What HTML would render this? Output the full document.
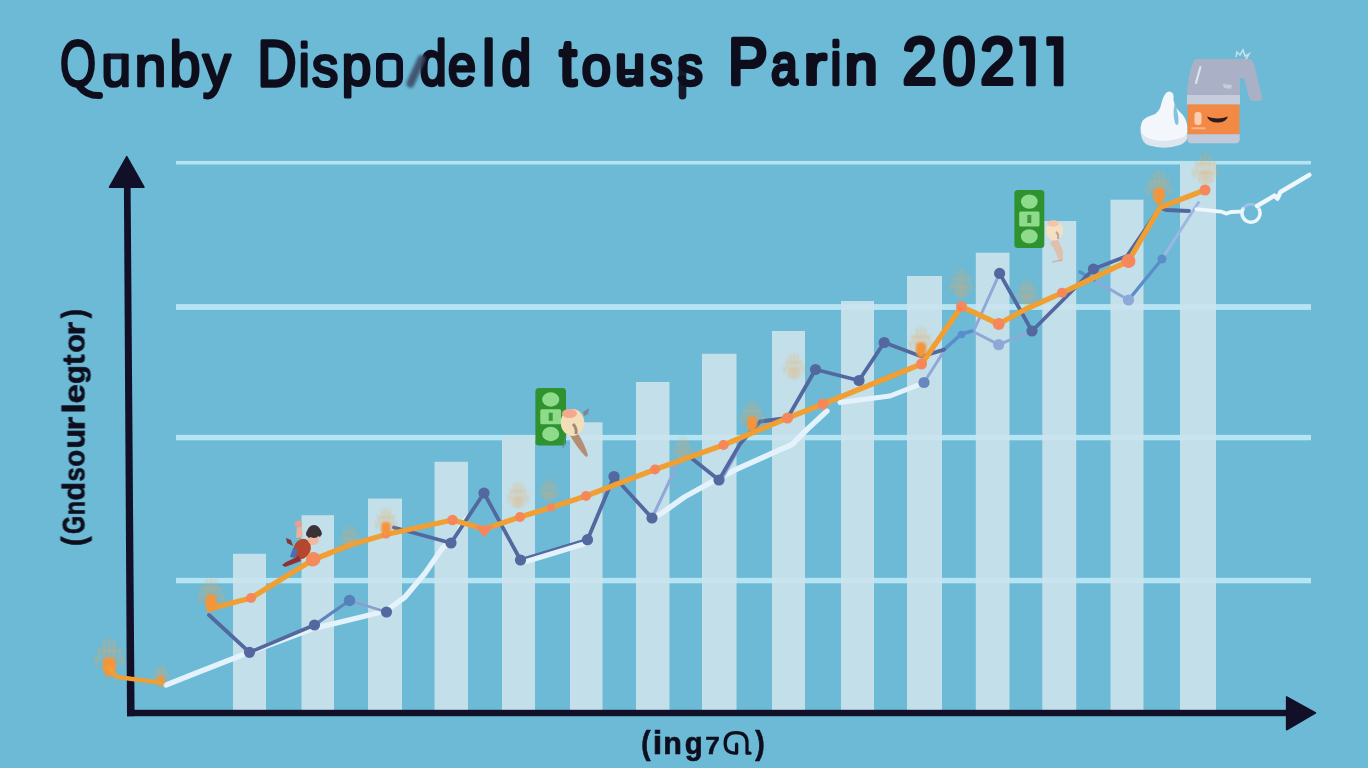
<!DOCTYPE html>
<html><head><meta charset="utf-8"><title>Chart</title>
<style>html,body{margin:0;padding:0;background:#6cbad6;overflow:hidden}svg{display:block}text{font-family:"Liberation Sans",sans-serif;}</style>
</head><body>
<svg width="1368" height="768" viewBox="0 0 1368 768">
<defs>
<filter id="b12" x="-50%" y="-50%" width="200%" height="200%"><feGaussianBlur stdDeviation="1.1"/></filter>
<filter id="b1" x="-50%" y="-50%" width="200%" height="200%"><feGaussianBlur stdDeviation="0.7"/></filter>
<filter id="b2" x="-60%" y="-60%" width="220%" height="220%"><feGaussianBlur stdDeviation="1.6"/></filter>
<filter id="b05" x="-30%" y="-30%" width="160%" height="160%"><feGaussianBlur stdDeviation="0.45"/></filter>
<g id="burst">
<path d="M-7,-5 L-8.5,-15 M-3.5,-7 L-4.2,-21 M0,-8 L0,-23 M3.5,-7 L4.2,-21 M7,-5 L8.5,-15 M-10,-1 L-11,-8 M10,-1 L11,-8 M-6.5,-13 L6.5,-13" fill="none" stroke="#f5a550" stroke-width="1.3" stroke-linecap="round" opacity="0.6"/>
<path d="M-5,-6 q5,-4 10,0 l0.5,7 q-2,6 -5,7 q-4,0 -6,-7z" fill="#f4953a"/>
</g>
<g id="burstf">
<path d="M-7,-5 L-8.5,-15 M-3.5,-7 L-4.2,-21 M0,-8 L0,-23 M3.5,-7 L4.2,-21 M7,-5 L8.5,-15 M-10,-1 L-11,-8 M10,-1 L11,-8 M-6.5,-13 L6.5,-13 M-6,-4 q6,-4 12,0 l0,6 q-6,5 -12,0z" fill="none" stroke="#f5a550" stroke-width="1.3" stroke-linecap="round" opacity="0.55"/>
<path d="M-4,-5 q4,-3 8,0 l0,6 q-4,4 -8,0z" fill="#f4a452" opacity="0.35"/>
</g>
</defs>
<rect width="1368" height="768" fill="#6cbad6"/>
<g filter="url(#b05)">
<rect x="176" y="160.95" width="1135" height="3.5" fill="#b7e4f3"/>
<rect x="176" y="304.10" width="1135" height="5.8" fill="#b7e4f3"/>
<rect x="176" y="434.90" width="1135" height="5.4" fill="#b7e4f3"/>
<rect x="176" y="577.90" width="1135" height="5.4" fill="#b7e4f3"/>
<rect x="233" y="553.75" width="33.0" height="156.75" fill="#c3dfe9"/>
<rect x="301.5" y="515.2" width="32.5" height="195.30" fill="#c3dfe9"/>
<rect x="368" y="498.5" width="34.0" height="212.00" fill="#c3dfe9"/>
<rect x="434.5" y="461.75" width="33.5" height="248.75" fill="#c3dfe9"/>
<rect x="502" y="435.5" width="33.0" height="275.00" fill="#c3dfe9"/>
<rect x="570" y="422.3" width="32.5" height="288.20" fill="#c3dfe9"/>
<rect x="636" y="382" width="33.5" height="328.50" fill="#c3dfe9"/>
<rect x="702" y="353.75" width="34.5" height="356.75" fill="#c3dfe9"/>
<rect x="772" y="331" width="33.0" height="379.50" fill="#c3dfe9"/>
<rect x="841" y="301" width="33.0" height="409.50" fill="#c3dfe9"/>
<rect x="907" y="276" width="35.0" height="434.50" fill="#c3dfe9"/>
<rect x="975.8" y="252.7" width="33.7" height="457.80" fill="#c3dfe9"/>
<rect x="1042.3" y="221" width="33.9" height="489.50" fill="#c3dfe9"/>
<rect x="1110.5" y="199.7" width="33.0" height="510.80" fill="#c3dfe9"/>
<rect x="1180" y="163.5" width="36.0" height="547.00" fill="#c3dfe9"/>
<rect x="233" y="577.90" width="33.0" height="5.4" fill="#c9e4ee"/>
<rect x="301.5" y="577.90" width="32.5" height="5.4" fill="#c9e4ee"/>
<rect x="368" y="577.90" width="34.0" height="5.4" fill="#c9e4ee"/>
<rect x="434.5" y="577.90" width="33.5" height="5.4" fill="#c9e4ee"/>
<rect x="502" y="577.90" width="33.0" height="5.4" fill="#c9e4ee"/>
<rect x="570" y="434.90" width="32.5" height="5.4" fill="#c9e4ee"/>
<rect x="570" y="577.90" width="32.5" height="5.4" fill="#c9e4ee"/>
<rect x="636" y="434.90" width="33.5" height="5.4" fill="#c9e4ee"/>
<rect x="636" y="577.90" width="33.5" height="5.4" fill="#c9e4ee"/>
<rect x="702" y="434.90" width="34.5" height="5.4" fill="#c9e4ee"/>
<rect x="702" y="577.90" width="34.5" height="5.4" fill="#c9e4ee"/>
<rect x="772" y="434.90" width="33.0" height="5.4" fill="#c9e4ee"/>
<rect x="772" y="577.90" width="33.0" height="5.4" fill="#c9e4ee"/>
<rect x="841" y="304.10" width="33.0" height="5.8" fill="#c9e4ee"/>
<rect x="841" y="434.90" width="33.0" height="5.4" fill="#c9e4ee"/>
<rect x="841" y="577.90" width="33.0" height="5.4" fill="#c9e4ee"/>
<rect x="907" y="304.10" width="35.0" height="5.8" fill="#c9e4ee"/>
<rect x="907" y="434.90" width="35.0" height="5.4" fill="#c9e4ee"/>
<rect x="907" y="577.90" width="35.0" height="5.4" fill="#c9e4ee"/>
<rect x="975.8" y="304.10" width="33.7" height="5.8" fill="#c9e4ee"/>
<rect x="975.8" y="434.90" width="33.7" height="5.4" fill="#c9e4ee"/>
<rect x="975.8" y="577.90" width="33.7" height="5.4" fill="#c9e4ee"/>
<rect x="1042.3" y="304.10" width="33.9" height="5.8" fill="#c9e4ee"/>
<rect x="1042.3" y="434.90" width="33.9" height="5.4" fill="#c9e4ee"/>
<rect x="1042.3" y="577.90" width="33.9" height="5.4" fill="#c9e4ee"/>
<rect x="1110.5" y="304.10" width="33.0" height="5.8" fill="#c9e4ee"/>
<rect x="1110.5" y="434.90" width="33.0" height="5.4" fill="#c9e4ee"/>
<rect x="1110.5" y="577.90" width="33.0" height="5.4" fill="#c9e4ee"/>
<rect x="1180" y="304.10" width="36.0" height="5.8" fill="#c9e4ee"/>
<rect x="1180" y="434.90" width="36.0" height="5.4" fill="#c9e4ee"/>
<rect x="1180" y="577.90" width="36.0" height="5.4" fill="#c9e4ee"/>
</g>
<g id="lines" filter="url(#b05)">
<polyline points="166.0,685.0 200.0,671.5 248.0,652.8 312.4,628.8 386.0,611.0 405.0,597.0 425.0,573.2 442.5,548.0 450.0,541.5" fill="none" stroke="#e4f2fb" stroke-width="5.4" stroke-linejoin="round" stroke-linecap="round" />
<polyline points="458.0,529.0 466.0,517.0" fill="none" stroke="#e4f2fb" stroke-width="2.5" stroke-linejoin="round" stroke-linecap="round" />
<polyline points="656.0,516.5 662.0,513.0 684.5,497.0 711.8,481.8 737.0,469.0 770.4,454.0 792.0,444.5 807.5,429.0 827.0,411.0" fill="none" stroke="#e4f2fb" stroke-width="5.4" stroke-linejoin="round" stroke-linecap="round" />
<polyline points="840.0,402.5 890.0,396.0 917.0,385.5" fill="none" stroke="#e4f2fb" stroke-width="5" stroke-linejoin="round" stroke-linecap="round" />
<polyline points="652.0,518.0 677.5,464.0" fill="none" stroke="#8ea9d8" stroke-width="3" stroke-linejoin="round" stroke-linecap="round" />
<polyline points="721.5,480.0 737.5,451.0" fill="none" stroke="#8ea9d8" stroke-width="3" stroke-linejoin="round" stroke-linecap="round" />
<polyline points="924.0,382.5 944.0,351.0" fill="none" stroke="#8ea9d8" stroke-width="3" stroke-linejoin="round" stroke-linecap="round" />
<polyline points="975.0,328.0 999.6,273.4" fill="none" stroke="#8ea9d8" stroke-width="3" stroke-linejoin="round" stroke-linecap="round" />
<polyline points="972.0,331.0 998.7,344.7 1032.0,331.0" fill="none" stroke="#8ea9d8" stroke-width="3" stroke-linejoin="round" stroke-linecap="round" />
<polyline points="1094.0,280.0 1128.5,300.0 1162.0,259.0" fill="none" stroke="#8ea9d8" stroke-width="3" stroke-linejoin="round" stroke-linecap="round" />
<polyline points="349.5,600.5 386.5,612.0" fill="none" stroke="#8d9ccc" stroke-width="2.6" stroke-linejoin="round" stroke-linecap="round" />
<polyline points="944.0,349.6 961.5,334.0 972.0,331.0" fill="none" stroke="#5a8ecb" stroke-width="3.6" stroke-linejoin="round" stroke-linecap="round" />
<polyline points="1080.0,272.0 1094.0,280.0" fill="none" stroke="#5a8ecb" stroke-width="3.6" stroke-linejoin="round" stroke-linecap="round" />
<polyline points="1128.5,300.0 1162.0,259.0" fill="none" stroke="#5a8ecb" stroke-width="3.2" stroke-linejoin="round" stroke-linecap="round" />
<polyline points="1162.0,259.0 1191.0,214.0 1198.5,202.5" fill="none" stroke="#9db7e4" stroke-width="3" stroke-linejoin="round" stroke-linecap="round" />
<polyline points="209.0,615.0 249.5,652.3 314.5,625.0" fill="none" stroke="#53689f" stroke-width="3.8" stroke-linejoin="round" stroke-linecap="round" />
<polyline points="314.5,625.0 349.5,600.5" fill="none" stroke="#5b84bd" stroke-width="3.2" stroke-linejoin="round" stroke-linecap="round" />
<polyline points="394.0,527.5 451.0,543.0 484.0,493.0 520.5,560.0 587.5,539.7" fill="none" stroke="#53689f" stroke-width="3.8" stroke-linejoin="round" stroke-linecap="round" />
<polyline points="587.5,539.7 614.0,476.5 652.0,518.0" fill="none" stroke="#53689f" stroke-width="3.8" stroke-linejoin="round" stroke-linecap="round" />
<polyline points="692.5,459.0 719.0,480.0 740.0,444.0 760.0,421.5 787.5,418.0 815.5,369.5 859.0,380.5 884.2,342.5 921.5,356.5 944.0,349.6" fill="none" stroke="#53689f" stroke-width="3.8" stroke-linejoin="round" stroke-linecap="round" />
<polyline points="999.6,273.4 1032.0,331.0 1067.0,296.0 1093.5,269.0 1127.0,256.0 1160.0,207.5 1166.0,210.0 1189.0,211.0" fill="none" stroke="#53689f" stroke-width="3.8" stroke-linejoin="round" stroke-linecap="round" />
<polyline points="527.0,561.2 560.0,551.2 583.0,544.2" fill="none" stroke="#e4f2fb" stroke-width="5.2" stroke-linejoin="round" stroke-linecap="round" />
<circle cx="249.5" cy="652.3" r="5.6" fill="#53689f" />
<circle cx="314.5" cy="625.0" r="5.6" fill="#53689f" />
<circle cx="386.5" cy="612.0" r="5.6" fill="#53689f" />
<circle cx="451.0" cy="543.0" r="5.6" fill="#53689f" />
<circle cx="484.0" cy="493.0" r="5.6" fill="#53689f" />
<circle cx="520.5" cy="560.0" r="5.6" fill="#53689f" />
<circle cx="587.5" cy="539.7" r="5.6" fill="#53689f" />
<circle cx="614.0" cy="476.5" r="5.6" fill="#53689f" />
<circle cx="652.0" cy="518.0" r="5.6" fill="#53689f" />
<circle cx="719.0" cy="480.0" r="5.6" fill="#53689f" />
<circle cx="815.5" cy="369.5" r="5.6" fill="#53689f" />
<circle cx="859.0" cy="380.5" r="5.6" fill="#53689f" />
<circle cx="884.2" cy="342.5" r="5.6" fill="#53689f" />
<circle cx="999.6" cy="273.4" r="5.6" fill="#53689f" />
<circle cx="1032.0" cy="331.0" r="5.6" fill="#53689f" />
<circle cx="1093.5" cy="269.0" r="5.6" fill="#53689f" />
<circle cx="998.7" cy="344.7" r="5.6" fill="#8ea9d8" />
<circle cx="1128.5" cy="300.0" r="5.6" fill="#8ea9d8" />
<circle cx="924.0" cy="382.5" r="5.6" fill="#6a86be" />
<circle cx="349.5" cy="600.5" r="5.8" fill="#5580b8" />
<circle cx="961.5" cy="334.5" r="3.8" fill="#5a8ecb" />
<circle cx="1162.0" cy="259.0" r="4.5" fill="#5a8ecb" />
<polyline points="209.0,609.0 251.0,598.0 312.5,560.0 350.0,545.0 386.0,534.5 452.5,520.0 484.5,529.0 520.0,517.0 551.0,507.5 586.0,496.0 655.0,469.5 723.5,445.0 787.5,418.0 823.0,404.0 921.5,364.0 961.5,306.6 998.7,324.0 1026.0,309.0 1062.0,292.8 1128.5,261.0 1160.0,207.5 1205.0,190.0" fill="none" stroke="#f19e30" stroke-width="5.3" stroke-linejoin="round" stroke-linecap="round" />
<circle cx="251.0" cy="598.0" r="5" fill="#f5875a" />
<circle cx="312.5" cy="560.0" r="6.5" fill="#f5875a" />
<circle cx="452.5" cy="520.0" r="5.3" fill="#f5875a" />
<circle cx="520.0" cy="517.0" r="5" fill="#f5875a" />
<circle cx="586.0" cy="496.0" r="5" fill="#f5875a" />
<circle cx="655.0" cy="469.5" r="5" fill="#f5875a" />
<circle cx="723.5" cy="445.0" r="5" fill="#f5875a" />
<circle cx="787.5" cy="418.0" r="5.5" fill="#f5875a" />
<circle cx="823.0" cy="404.0" r="5.5" fill="#f5875a" />
<circle cx="921.5" cy="364.0" r="5.5" fill="#f5875a" />
<circle cx="961.5" cy="306.6" r="5.5" fill="#f5875a" />
<circle cx="998.7" cy="324.0" r="6" fill="#f5875a" />
<circle cx="1062.0" cy="292.8" r="5" fill="#f5875a" />
<circle cx="1128.5" cy="261.0" r="7" fill="#f5875a" />
<circle cx="1205.0" cy="190.0" r="5.5" fill="#f5875a" />
<circle cx="551.0" cy="507.5" r="4" fill="#f5875a" />
<circle cx="386.0" cy="534.5" r="4" fill="#f5875a" />
<path d="M476.3,526.2 L492.4,526.2 L484.4,536.2z" fill="#f5875a" stroke="#f5875a" stroke-width="1.5" stroke-linejoin="round"/>
</g>
<g filter="url(#b12)">
<use href="#burst" transform="translate(109.3,667) scale(1.25)"/>
<use href="#burst" transform="translate(161,681) scale(0.7)"/>
<use href="#burst" transform="translate(211,603) scale(1.1)"/>
<use href="#burstf" transform="translate(350,543) scale(0.8)"/>
<use href="#burst" transform="translate(386,529) scale(0.9)"/>
<use href="#burstf" transform="translate(518,503) scale(0.9)"/>
<use href="#burstf" transform="translate(549,497) scale(0.8)"/>
<use href="#burstf" transform="translate(683,455) scale(0.8)"/>
<use href="#burst" transform="translate(752,424) scale(1.0)"/>
<use href="#burstf" transform="translate(794,374) scale(0.9)"/>
<use href="#burst" transform="translate(921,350) scale(1.0)"/>
<use href="#burstf" transform="translate(961,292) scale(1.0)"/>
<use href="#burstf" transform="translate(1027,300) scale(0.9)"/>
<use href="#burst" transform="translate(1159,196) scale(1.1)"/>
<use href="#burstf" transform="translate(1205.5,178) scale(1.1)"/>
</g>
<g filter="url(#b05)">
<polyline points="1196.5,209.2 1220.8,211.6 1226.0,213.6 1231.0,212.0 1241.0,211.6" fill="none" stroke="#eef7fc" stroke-width="3.8" stroke-linejoin="round" stroke-linecap="round" />
<path d="M1243.2,208.7 A9,9 0 1 0 1258.8,208.7" fill="none" stroke="#eef7fc" stroke-width="3.5" stroke-linecap="round"/>
<path d="M1243.2,208.7 A9,9 0 0 1 1258.8,208.7" fill="none" stroke="#b9c9ea" stroke-width="3" opacity="0.6"/>
<polyline points="1257.0,206.0 1274.5,195.6 1277.5,198.6 1280.5,192.0 1309.4,174.8" fill="none" stroke="#eef7fc" stroke-width="4.4" stroke-linejoin="round" stroke-linecap="round" />
</g>
<polygon points="123.9,186 130.6,186 134.6,716.2 127,716.2" fill="#120f29"/>
<polygon points="126.75,156.6 144,187.2 109.5,187.2" fill="#120f29" stroke="#120f29" stroke-width="1.5" stroke-linejoin="round"/>
<rect x="127" y="709.8" width="1162" height="6.4" fill="#120f29"/>
<polygon points="1315.6,712.9 1286.6,696.8 1286.6,729.8" fill="#120f29" stroke="#120f29" stroke-width="1.5" stroke-linejoin="round"/>
<g filter="url(#b05)">
<polyline points="108.8,667.5 116.0,676.6 130.6,678.8 160.3,682.6" fill="none" stroke="#f19e30" stroke-width="4.4" stroke-linejoin="round" stroke-linecap="round" />
</g>
<g filter="url(#b05)">
<rect x="535.4" y="388" width="30.6" height="57.5" rx="3.5" fill="#2f922f"/><ellipse cx="550.7" cy="399.5" rx="8.6" ry="7.2" fill="#8edb8c"/><rect x="540.3" y="409.3" width="20.8" height="15.0" rx="1.5" fill="#8edb8c"/><rect x="548.7" y="412.7" width="4" height="8.1" fill="#3a9a3a"/><ellipse cx="550.7" cy="434.0" rx="8.6" ry="7.2" fill="#8edb8c"/>
<rect x="1014.4" y="190" width="29.9" height="58.0" rx="3.5" fill="#2f922f"/><ellipse cx="1029.3" cy="201.6" rx="8.4" ry="7.2" fill="#8edb8c"/><rect x="1019.2" y="211.5" width="20.3" height="15.1" rx="1.5" fill="#8edb8c"/><rect x="1027.3" y="214.9" width="4" height="8.1" fill="#3a9a3a"/><ellipse cx="1029.3" cy="236.4" rx="8.4" ry="7.2" fill="#8edb8c"/>
</g>
<g filter="url(#b1)">
<path d="M574,428 q8,10 13,24 q2,6 -1.5,4.5 q-8,-8 -16,-22 z" fill="#b48d74"/>
<path d="M566,436 l-3,12" stroke="#6d86a8" stroke-width="1.5" opacity="0.7"/>
<ellipse cx="572.5" cy="422.5" rx="11.8" ry="13.5" fill="#f2deb8"/>
<ellipse cx="569.5" cy="413.5" rx="7.5" ry="4.5" fill="#f4a88e"/>
<path d="M583,412 l6,-4 l-1,6 l-4,2 z" fill="#7f8594"/>
<path d="M573,424 q4,4 3,10" stroke="#8b7466" stroke-width="3" fill="none" opacity="0.8"/>
<path d="M1056,238 q8,8 7,22 q-1,3 -4,1 q-3,-10 -9,-18 z" fill="#e3bda6" opacity="0.9"/>
<path d="M1052,262 l10,-2" stroke="#d9a890" stroke-width="1.6" opacity="0.8"/>
<ellipse cx="1054.5" cy="230.5" rx="8.8" ry="10" fill="#f3dfc4"/>
<ellipse cx="1053" cy="223.5" rx="6" ry="3.2" fill="#f3c3a8" opacity="0.9"/>
<path d="M1056,232 q3,2 2,7" stroke="#b79a8c" stroke-width="2.2" fill="none" opacity="0.8"/>
</g>
<g filter="url(#b1)">
<ellipse cx="302" cy="549" rx="8.5" ry="10.5" fill="#b4472e" transform="rotate(25 302 549)"/>
<path d="M291,540 l-5,-2 l1,5 l6,3z" fill="#7a3a3a"/>
<path d="M293,548 l-3,9 l5,1 l3,-8z" fill="#4a6fb5"/>
<path d="M299,556 l-13,6 l-4,3 l3,2 l16,-6z" fill="#8c3030"/>
<path d="M296,538 l1,-13 l4,0 l2,12z" fill="#eab09a"/>
<circle cx="298.5" cy="524" r="3.5" fill="#e79f92"/>
<circle cx="313.5" cy="539.5" r="5.5" fill="#f1b9a0"/>
<path d="M306,535 a8,8 0 0 1 16,-1 l-2,3 l-5,-3 l-6,4z" fill="#3a3038"/>
<circle cx="314" cy="531.5" r="6.5" fill="#3a3038"/>
<circle cx="313.5" cy="559" r="7" fill="#f58a5c"/>
</g>
<g filter="url(#b05)">
<path d="M1140.5,128 q0,-10 12,-13 q7,-2 9,-12 q3,-12 8,-11.5 q5,0.5 4,8 q1,8 6,12 q7,6 8,16 q1,10 -7,14 q-16,6 -32,1 q-8.500,-4 -8,-14.5z" fill="#f3f6fa"/>
<path d="M1141,133 q8,8 22,8 q16,0 25,-7 q0,8 -8,11 q-15,5 -31,0.500 q-8,-3 -8,-12.500z" fill="#dde5ee"/>
<path d="M1174.5,104 q-2,10 0.5,19 q2,4 3.5,0 q0.500,-10 -4,-19z" fill="#6cbad6" opacity="0.85"/>
<path d="M1187,95 q1,-20 6,-33 q1,-3 5,-3 l50,0 q4,0 6,5 l8,33 q1,4 -3,4 l-6,0 q-3,0 -4,-4 l-5,-19 l-4,0 l0,17 z" fill="#aab0c5"/>
<rect x="1187" y="95" width="53" height="9.800" fill="#c5cddd"/>
<rect x="1187.600" y="104.400" width="51.800" height="30" fill="#f28a45"/>
<path d="M1187.300,134.300 h52.400 v5 q0,4 -4,4 h-44.400 q-4,0 -4,-4z" fill="#c1c9db"/>
<path d="M1207,116.500 q10.500,4 21,0 q-2,6 -10.500,6 q-8.500,0 -10.500,-6z" fill="#2a1a22"/>
<rect x="1194.500" y="112" width="7" height="13" rx="3" fill="#fbd5bd" opacity="0.9"/>
<rect x="1191.500" y="127.300" width="14" height="2" fill="#f8b990" opacity="0.9"/>
<path d="M1200.400,67 L1196,83" stroke="#dfe3ec" stroke-width="2.200" stroke-linecap="round"/>
<path d="M1223,84 l9,1 l-1,4 l-7,-1z" fill="#c7ccda"/>
<path d="M1236,57 l1,-5 l3,3 l3,-5 l2,6 l4,-2 l-3,5" fill="none" stroke="#cfe3ef" stroke-width="1.600" opacity="0.9"/>
</g>
<g id="title" filter="url(#b05)">
<text transform="translate(59.95,86.25) scale(0.7490,1.0418)" font-size="62" font-weight="normal" fill="#0e0c1f" stroke="#0e0c1f" stroke-width="2.7" stroke-linejoin="round" >O</text>
<text transform="translate(101.20,86.14) scale(0.8695,0.9525)" font-size="62" font-weight="normal" fill="#0e0c1f" stroke="#0e0c1f" stroke-width="2.8" stroke-linejoin="round" >u</text>
<text transform="translate(134.44,86.04) scale(0.9234,0.9328)" font-size="62" font-weight="normal" fill="#0e0c1f" stroke="#0e0c1f" stroke-width="2.88" stroke-linejoin="round" >n</text>
<text transform="translate(169.39,85.95) scale(0.8981,1.0203)" font-size="62" font-weight="normal" fill="#0e0c1f" stroke="#0e0c1f" stroke-width="2.96" stroke-linejoin="round" >b</text>
<text transform="translate(202.78,85.87) scale(0.8969,0.9452)" font-size="62" font-weight="normal" fill="#0e0c1f" stroke="#0e0c1f" stroke-width="3.04" stroke-linejoin="round" >y</text>
<text transform="translate(257.56,85.71) scale(0.8720,1.0461)" font-size="62" font-weight="normal" fill="#0e0c1f" stroke="#0e0c1f" stroke-width="3.18" stroke-linejoin="round" >D</text>
<text transform="translate(298.74,85.60) scale(0.7946,0.9801)" font-size="62" font-weight="normal" fill="#0e0c1f" stroke="#0e0c1f" stroke-width="3.27" stroke-linejoin="round" >i</text>
<text transform="translate(312.09,85.57) scale(0.8471,0.9227)" font-size="62" font-weight="normal" fill="#0e0c1f" stroke="#0e0c1f" stroke-width="3.3" stroke-linejoin="round" >s</text>
<text transform="translate(341.67,85.49) scale(0.8547,0.9190)" font-size="62" font-weight="normal" fill="#0e0c1f" stroke="#0e0c1f" stroke-width="3.37" stroke-linejoin="round" >p</text>
<text transform="translate(419.76,85.28) scale(0.7761,1.0070)" font-size="62" font-weight="normal" fill="#0e0c1f" stroke="#0e0c1f" stroke-width="3.56" stroke-linejoin="round" >d</text>
<text transform="translate(448.08,85.21) scale(0.8105,0.9106)" font-size="62" font-weight="normal" fill="#0e0c1f" stroke="#0e0c1f" stroke-width="3.62" stroke-linejoin="round" >e</text>
<text transform="translate(482.51,85.11) scale(0.8974,1.0037)" font-size="62" font-weight="normal" fill="#0e0c1f" stroke="#0e0c1f" stroke-width="3.71" stroke-linejoin="round" >l</text>
<text transform="translate(501.54,85.06) scale(0.8590,1.0028)" font-size="62" font-weight="normal" fill="#0e0c1f" stroke="#0e0c1f" stroke-width="3.75" stroke-linejoin="round" >d</text>
<text transform="translate(559.41,84.91) scale(0.9929,1.0508)" font-size="62" font-weight="normal" fill="#0e0c1f" stroke="#0e0c1f" stroke-width="3.88" stroke-linejoin="round" >t</text>
<text transform="translate(581.67,84.85) scale(0.8458,0.9010)" font-size="62" font-weight="normal" fill="#0e0c1f" stroke="#0e0c1f" stroke-width="3.94" stroke-linejoin="round" >o</text>
<text transform="translate(614.98,84.76) scale(0.8763,0.9153)" font-size="62" font-weight="normal" fill="#0e0c1f" stroke="#0e0c1f" stroke-width="4.02" stroke-linejoin="round" >u</text>
<text transform="translate(650.21,84.67) scale(0.7213,0.8987)" font-size="62" font-weight="normal" fill="#0e0c1f" stroke="#0e0c1f" stroke-width="4.1" stroke-linejoin="round" >s</text>
<text transform="translate(677.69,84.59) scale(0.8075,0.8966)" font-size="62" font-weight="normal" fill="#0e0c1f" stroke="#0e0c1f" stroke-width="4.17" stroke-linejoin="round" >s</text>
<text transform="translate(728.32,84.45) scale(0.9488,1.0482)" font-size="62" font-weight="normal" fill="#0e0c1f" stroke="#0e0c1f" stroke-width="4.29" stroke-linejoin="round" >P</text>
<text transform="translate(771.20,84.34) scale(0.7570,0.9115)" font-size="62" font-weight="normal" fill="#0e0c1f" stroke="#0e0c1f" stroke-width="4.39" stroke-linejoin="round" >a</text>
<text transform="translate(804.09,84.25) scale(1.0794,0.9091)" font-size="62" font-weight="normal" fill="#0e0c1f" stroke="#0e0c1f" stroke-width="4.47" stroke-linejoin="round" >r</text>
<text transform="translate(831.12,84.18) scale(0.7102,0.9676)" font-size="62" font-weight="normal" fill="#0e0c1f" stroke="#0e0c1f" stroke-width="4.53" stroke-linejoin="round" >i</text>
<text transform="translate(845.12,84.13) scale(0.9390,0.9061)" font-size="62" font-weight="normal" fill="#0e0c1f" stroke="#0e0c1f" stroke-width="4.57" stroke-linejoin="round" >n</text>
<rect x="106" y="53.6" width="20" height="5.6" rx="2" fill="#0e0c1f" filter="url(#b1)" opacity="0.92"/>
<path d="M79.5,86.5 Q86,95.8 99.5,95.6" fill="none" stroke="#0e0c1f" stroke-width="7" stroke-linecap="round"/>
<rect x="379.3" y="56.4" width="20.4" height="27.8" rx="6" fill="none" stroke="#0f0e22" stroke-width="6.6"/>
<path d="M410.5,83.5 L421.5,59" stroke="#3c4c68" stroke-width="8" stroke-linecap="round" filter="url(#b2)" opacity="0.9"/>
<rect x="621" y="69" width="19" height="6" fill="#0e0c1f" filter="url(#b1)"/>
<path d="M623,80 Q630,75 638,80 L638,84 L623,84z" fill="#0e0c1f" filter="url(#b1)" opacity="0.9"/>
<rect x="678.7" y="56" width="7.6" height="43.5" rx="3.8" fill="#0e0c1f" filter="url(#b1)" opacity="0.93"/>
<text transform="translate(902.61,84.10) scale(0.9312,1.0025)" font-size="66" font-weight="normal" fill="#0e0c1f" stroke="#0e0c1f" stroke-width="4.2" stroke-linejoin="round" >2</text>
<text transform="translate(942.80,84.10) scale(0.8907,1.0025)" font-size="66" font-weight="normal" fill="#0e0c1f" stroke="#0e0c1f" stroke-width="4.2" stroke-linejoin="round" >0</text>
<text transform="translate(980.21,84.10) scale(0.9312,1.0025)" font-size="66" font-weight="normal" fill="#0e0c1f" stroke="#0e0c1f" stroke-width="4.2" stroke-linejoin="round" >2</text>
<path d="M1020.8,37.7 L1034.3,37.7 L1034.3,84.7 L1027.7,84.7 L1027.7,43.8 L1020.8,44.4 z" fill="#0e0c1f" stroke="#0e0c1f" stroke-width="3" stroke-linejoin="round"/>
<path d="M1047.8,37.7 L1061.9,37.7 L1061.9,84.7 L1055.3000000000002,84.7 L1055.3000000000002,43.8 L1047.8,44.4 z" fill="#0e0c1f" stroke="#0e0c1f" stroke-width="3" stroke-linejoin="round"/>
</g>
<g transform="translate(84.6,0) rotate(-90)" filter="url(#b05)">
<text transform="translate(-545.88,-0.35) scale(0.8969,1.0264)" font-size="32" font-weight="bold" fill="#0e0c1f" stroke="#0e0c1f" stroke-width="0.7" stroke-linejoin="round" >(</text>
<text transform="translate(-534.11,-0.35) scale(0.7317,0.9533)" font-size="32" font-weight="bold" fill="#0e0c1f" stroke="#0e0c1f" stroke-width="0.7" stroke-linejoin="round" >G</text>
<text transform="translate(-515.19,-0.35) scale(0.7312,0.9342)" font-size="32" font-weight="bold" fill="#0e0c1f" stroke="#0e0c1f" stroke-width="0.7" stroke-linejoin="round" >n</text>
<text transform="translate(-500.40,-0.35) scale(0.9488,1.0049)" font-size="32" font-weight="bold" fill="#0e0c1f" stroke="#0e0c1f" stroke-width="0.7" stroke-linejoin="round" >d</text>
<text transform="translate(-481.55,-0.35) scale(0.8008,0.9342)" font-size="32" font-weight="bold" fill="#0e0c1f" stroke="#0e0c1f" stroke-width="0.7" stroke-linejoin="round" >s</text>
<text transform="translate(-466.74,-0.35) scale(0.8682,0.9350)" font-size="32" font-weight="bold" fill="#0e0c1f" stroke="#0e0c1f" stroke-width="0.7" stroke-linejoin="round" >o</text>
<text transform="translate(-448.68,-0.35) scale(1.0224,0.9523)" font-size="32" font-weight="bold" fill="#0e0c1f" stroke="#0e0c1f" stroke-width="0.7" stroke-linejoin="round" >u</text>
<text transform="translate(-430.58,-0.35) scale(1.1055,0.9342)" font-size="32" font-weight="bold" fill="#0e0c1f" stroke="#0e0c1f" stroke-width="0.7" stroke-linejoin="round" >r</text>
<text transform="translate(-413.85,-0.35) scale(1.2071,1.0049)" font-size="32" font-weight="bold" fill="#0e0c1f" stroke="#0e0c1f" stroke-width="0.7" stroke-linejoin="round" >l</text>
<text transform="translate(-403.51,-0.35) scale(1.0872,0.9350)" font-size="32" font-weight="bold" fill="#0e0c1f" stroke="#0e0c1f" stroke-width="0.7" stroke-linejoin="round" >e</text>
<text transform="translate(-383.92,-0.35) scale(0.9693,0.9342)" font-size="32" font-weight="bold" fill="#0e0c1f" stroke="#0e0c1f" stroke-width="0.7" stroke-linejoin="round" >g</text>
<text transform="translate(-365.04,-0.35) scale(0.9924,0.9964)" font-size="32" font-weight="bold" fill="#0e0c1f" stroke="#0e0c1f" stroke-width="0.7" stroke-linejoin="round" >t</text>
<text transform="translate(-352.85,-0.35) scale(0.9562,0.9350)" font-size="32" font-weight="bold" fill="#0e0c1f" stroke="#0e0c1f" stroke-width="0.7" stroke-linejoin="round" >o</text>
<text transform="translate(-335.46,-0.35) scale(1.0954,0.9342)" font-size="32" font-weight="bold" fill="#0e0c1f" stroke="#0e0c1f" stroke-width="0.7" stroke-linejoin="round" >r</text>
<text transform="translate(-318.18,-0.35) scale(0.8637,1.0264)" font-size="32" font-weight="bold" fill="#0e0c1f" stroke="#0e0c1f" stroke-width="0.7" stroke-linejoin="round" >)</text>
</g>
<g filter="url(#b05)">
<text transform="translate(641.36,753.85) scale(0.8482,1.0037)" font-size="33" font-weight="bold" fill="#0e0c1f" stroke="#0e0c1f" stroke-width="0.7" stroke-linejoin="round" >(</text>
<text transform="translate(652.76,753.85) scale(1.0380,0.9911)" font-size="33" font-weight="bold" fill="#0e0c1f" stroke="#0e0c1f" stroke-width="0.7" stroke-linejoin="round" >i</text>
<text transform="translate(663.34,753.85) scale(0.9224,0.9396)" font-size="33" font-weight="bold" fill="#0e0c1f" stroke="#0e0c1f" stroke-width="0.7" stroke-linejoin="round" >n</text>
<text transform="translate(684.64,753.85) scale(0.8917,0.9396)" font-size="33" font-weight="bold" fill="#0e0c1f" stroke="#0e0c1f" stroke-width="0.7" stroke-linejoin="round" >g</text>
<text transform="translate(705.22,753.85) scale(0.7943,0.7047)" font-size="33" font-weight="bold" fill="#0e0c1f" stroke="#0e0c1f" stroke-width="0.7" stroke-linejoin="round" >7</text>
<text transform="translate(755.32,753.85) scale(0.8590,1.0037)" font-size="33" font-weight="bold" fill="#0e0c1f" stroke="#0e0c1f" stroke-width="0.7" stroke-linejoin="round" >)</text>
<path d="M736.6,744.2 L736.6,753 Q725.2,754.2 725.2,743 Q725.2,732.6 736,732.6 Q747,732.6 747,742.5 L747,753.2 L750,753.2" fill="none" stroke="#0e0c1f" stroke-width="3.3" stroke-linecap="round" stroke-linejoin="round"/>
</g>
</svg></body></html>
